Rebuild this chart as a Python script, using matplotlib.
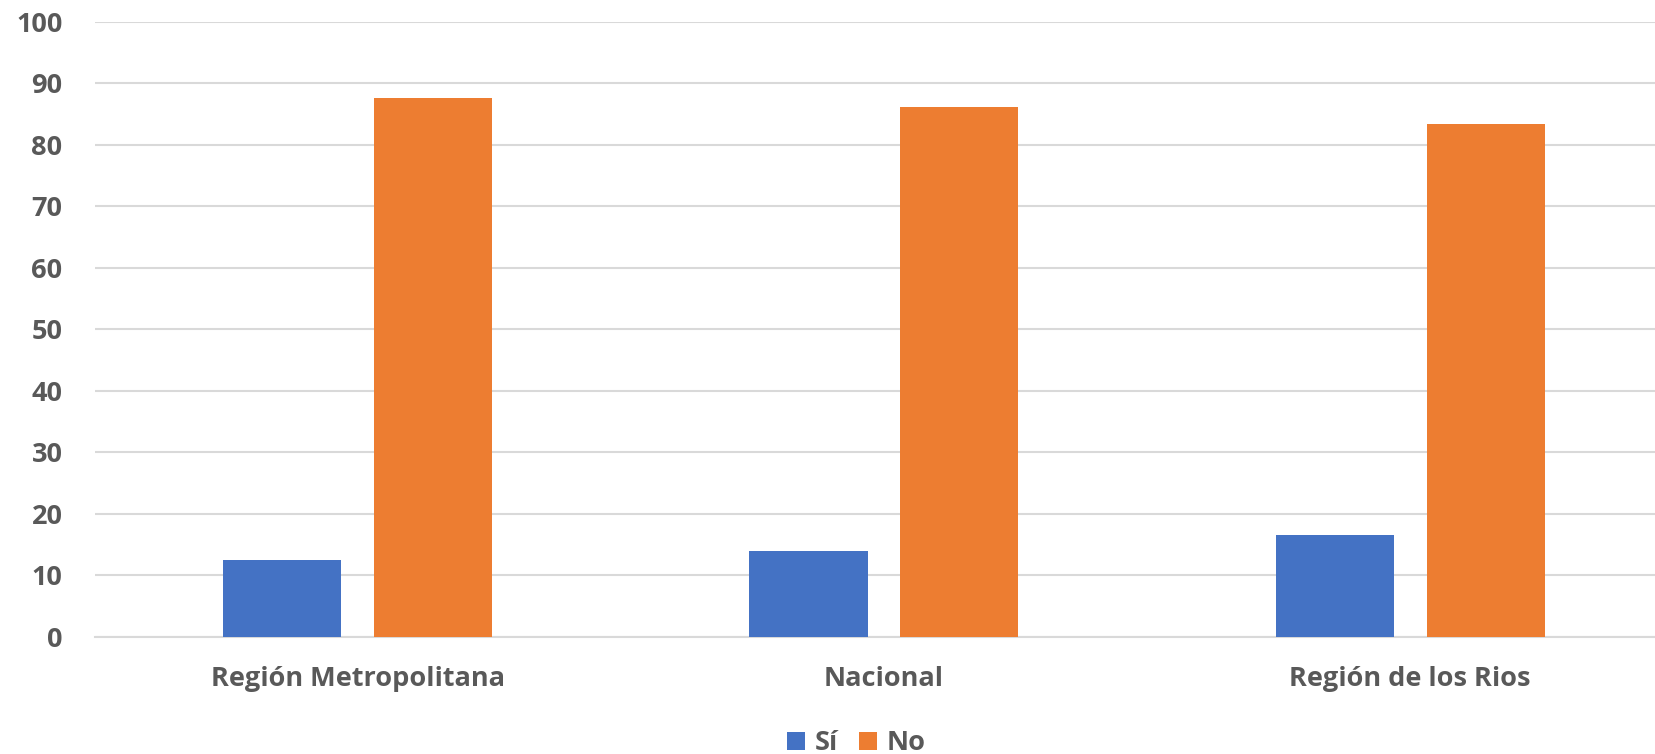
import matplotlib.pyplot as plt
import numpy as np

regions = ["Región Metropolitana", "Nacional", "Región de los Rios"]
si_values = [12.4, 13.9, 16.6]
no_values = [87.6, 86.1, 83.4]
series_labels = ["Sí", "No"]
y_ticks = [0, 10, 20, 30, 40, 50, 60, 70, 80, 90, 100]

BLUE = "#4472C4"
ORANGE = "#ED7D31"
GRID = "#D9D9D9"
TEXT = "#595959"

plt.rcParams["font.family"] = ["Open Sans", "DejaVu Sans"]

fig = plt.figure(figsize=(16.55, 7.54), dpi=100)
# the plot area runs a little past the right edge, as in the reference
ax = fig.add_axes([0.0571, 0.1558, 0.954, 0.815])

x = np.arange(len(regions))
width = 0.2245
offset = 0.1433

ax.bar(x - offset, si_values, width, color=BLUE, label=series_labels[0], zorder=3)
ax.bar(x + offset, no_values, width, color=ORANGE, label=series_labels[1], zorder=3)

ax.set_xlim(-0.5, len(regions) - 0.5)
ax.set_ylim(0, 100)
ax.set_yticks(y_ticks)
ax.set_xticks(x)
ax.set_xticklabels(regions)

ax.yaxis.grid(True, color=GRID, linewidth=1.5, zorder=0)
ax.set_axisbelow(True)
for side in ["top", "right", "left"]:
    ax.spines[side].set_visible(False)
ax.spines["bottom"].set_color(GRID)
ax.spines["bottom"].set_linewidth(1.5)

ax.tick_params(axis="both", length=0, labelsize=19.5, labelcolor=TEXT)
ax.tick_params(axis="x", pad=21)
ax.tick_params(axis="y", pad=23)
for lbl in ax.get_xticklabels() + ax.get_yticklabels():
    lbl.set_fontweight("bold")

leg = fig.legend(
    loc="center",
    bbox_to_anchor=(0.5175, 0.014),
    ncol=2,
    frameon=False,
    handlelength=0.65,
    handleheight=0.65,
    handletextpad=0.35,
    columnspacing=0.8,
    prop={"size": 19.5, "weight": "bold"},
)
for t in leg.get_texts():
    t.set_color(TEXT)

fig.savefig("out.png", dpi=100)
